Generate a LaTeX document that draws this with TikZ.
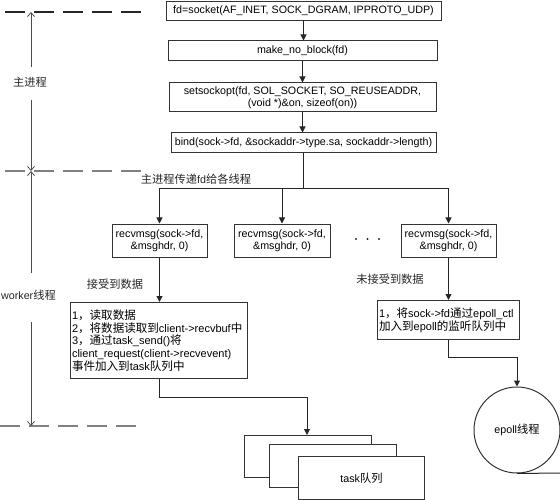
\documentclass[tikz,border=0pt]{standalone}
\usepackage{fontspec}
\setmainfont{Liberation Sans}
\newfontfamily\cjk[Scale=1.05]{Noto Sans CJK SC}
\newcommand{\zh}[1]{{\cjk #1}}
\usetikzlibrary{arrows.meta}

\begin{document}
\begin{tikzpicture}[x=1pt,y=-1pt,
            font=\fontsize{10.7}{12.5}\selectfont,
            box/.style={draw=black!80,line width=1pt,fill=white,inner sep=2pt,align=center},
            note/.style={draw=black!80,line width=1pt,fill=white,inner xsep=1.5pt,inner ysep=3pt,align=left,anchor=north west,
                font=\fontsize{11}{12.8}\selectfont},
            arrow/.style={-{Triangle[length=6pt,width=6pt]},line width=1pt,black!85},
            wire/.style={line width=1pt,black!85},
            sidearrow/.style={-{Straight Barb[length=4pt,width=7pt]},line width=0.8pt,black!70},
            divider/.style={line width=1.5pt,gray,dash pattern=on 20pt off 9pt},
            lbl/.style={text=black!85,inner sep=1pt}]
            \useasboundingbox (0,0) rectangle (560,500);

            \coordinate (topL) at (5,12);
            \coordinate (topR) at (142,12);
            \coordinate (midL) at (5,171);
            \coordinate (midR) at (142,171);
            \coordinate (botL) at (0,426);
            \coordinate (botR) at (138,426);
            \draw[divider,black!85] (topL) -- (topR);
            \draw[divider] (midL) -- (midR);
            \draw[divider] (botL) -- (botR);

            \node[lbl] (mainLbl) at (30,82) {\zh{主进程}};
            \node[lbl] (workerLbl) at (28.5,295) {worker\zh{线程}};
            \coordinate (m1) at (31,67);
            \coordinate (m2) at (31,100);
            \coordinate (w1) at (31,273);
            \coordinate (w2) at (31,322);
            \draw[sidearrow] (m1) -- (m1 |- topL);
            \draw[sidearrow] (m2) -- (m2 |- midL);
            \draw[sidearrow] (w1) -- (w1 |- midL);
            \draw[sidearrow] (w2) -- (w2 |- botL);

            \node[box,minimum width=275pt,minimum height=19pt] (socket) at (303.5,11) {fd=socket(AF\_INET, SOCK\_DGRAM, IPPROTO\_UDP)};
            \node[box,minimum width=269pt,minimum height=20pt] (noblock) at (302.5,51) {make\_no\_block(fd)};
            \node[box,minimum width=267pt,minimum height=29pt] (sockopt) at (302.5,97.5) {setsockopt(fd, SOL\_SOCKET, SO\_REUSEADDR,\\(void *)\&on, sizeof(on))};
            \node[box,minimum width=265pt,minimum height=20pt] (bind) at (303.5,143) {bind(sock->fd, \&sockaddr->type.sa, sockaddr->length)};
            \draw[arrow] (socket.south) -- (socket.south |- noblock.north);
            \draw[arrow] (noblock.south) -- (noblock.south |- sockopt.north);
            \draw[arrow] (sockopt.south) -- (sockopt.south |- bind.north);

            \node[box,minimum width=95pt,minimum height=33pt] (recvA) at (159.5,240.5) {recvmsg(sock->fd,\\\&msghdr, 0)};
            \node[box,minimum width=96pt,minimum height=33pt] (recvB) at (282,240.5) {recvmsg(sock->fd,\\\&msghdr, 0)};
            \node[box,minimum width=95pt,minimum height=33pt] (recvC) at (448.5,240.5) {recvmsg(sock->fd,\\\&msghdr, 0)};
            \coordinate (split) at (303.5,189);
            \draw[wire] (bind.south) -- (split);
            \draw[arrow] (split) -| (recvA.north);
            \draw[arrow] (split) -| (recvC.north);
            \draw[arrow] (split -| recvB.north) -- (recvB.north);
            \node[lbl] (passLbl) at (196,179) {\zh{主进程传递}fd\zh{给各线程}};
            \foreach \d in {356,367.5,379}
                \fill[black!85] (\d,239) circle (1.2pt);

            \node[note,minimum width=177pt,minimum height=76pt,text width=174pt] (textA) at (70,302) {1\zh{，读取数据}\\2\zh{，将数据读取到}client->recvbuf\zh{中}\\3\zh{，通过}task\_send()\zh{将}\\client\_request(client->recvevent)\\\zh{事件加入到}task\zh{队列中}};
            \node[note,minimum width=142pt,minimum height=39pt,text width=139pt] (textC) at (377,300) {1\zh{，将}sock->fd\zh{通过}epoll\_ctl\\\zh{加入到}epoll\zh{的监听队列中}};
            \draw[arrow] (recvA.south) -- (recvA.south |- textA.north);
            \draw[arrow] (recvC.south) -- (recvC.south |- textC.north);
            \node[lbl] (recvLbl) at (115,284) {\zh{接受到数据}};
            \node[lbl] (norecvLbl) at (390,279) {\zh{未接受到数据}};

            \node[box,anchor=north west,minimum width=127pt,minimum height=42pt] (task1) at (244,435) {};
            \node[box,anchor=north west,minimum width=127pt,minimum height=43pt] (task2) at (269,444) {};
            \node[box,anchor=north west,minimum width=126pt,minimum height=43pt] (task3) at (298,456) {task\zh{队列}};
            \coordinate (bendA) at (307,397);
            \draw[arrow] (textA.south) |- (bendA) -- (bendA |- task1.north);

            \node[draw=black!80,line width=1pt,circle,minimum size=86pt,inner sep=0pt] (epoll) at (517,430) {epoll\zh{线程}};
            \coordinate (bendC) at (517,357);
            \coordinate (tailEnd) at (560,473);
            \draw[arrow] (textC.south) |- (bendC) -- (epoll.north);
            \draw[wire] (epoll.south) -- (tailEnd);
        \end{tikzpicture}
\end{document}
